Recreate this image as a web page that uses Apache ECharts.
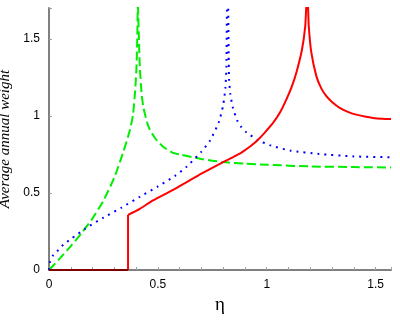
<!DOCTYPE html>
<html>
<head>
<meta charset="utf-8">
<script src="https://cdn.jsdelivr.net/npm/echarts@6/dist/echarts.min.js"></script>
<style>
  html, body { margin: 0; padding: 0; background: #fff; }
  #main { width: 400px; height: 321px; }
</style>
</head>
<body>
<div id="main"></div>
<script>
// eta values and weights (points above 1.7 get clipped)
const greenEta = [0, 0.05, 0.1, 0.15, 0.2, 0.25, 0.3, 0.34, 0.37, 0.385, 0.395, 0.402, 0.406, 0.408,
  0.41, 0.413, 0.417, 0.425, 0.433, 0.45, 0.463, 0.49, 0.524, 0.57, 0.6, 0.7, 0.8, 0.9, 1.0, 1.2, 1.4, 1.571]
const greenVal = [0, 0.075, 0.155, 0.24, 0.335, 0.45, 0.6, 0.76, 0.9, 1.0, 1.15, 1.32, 1.55, 1.75,
  1.75, 1.5, 1.32, 1.15, 1.06, 0.96, 0.911, 0.85, 0.80, 0.76, 0.75, 0.72, 0.70, 0.69, 0.683, 0.672, 0.668, 0.665]

const blueEta = [0, 0.005, 0.02, 0.043, 0.066, 0.1, 0.165, 0.25, 0.333, 0.417, 0.5, 0.578, 0.632, 0.7, 0.74, 0.78, 0.8, 0.81, 0.815, 0.818,
  0.822, 0.825, 0.827, 0.833, 0.845, 0.866, 0.884, 0.907, 0.96, 1.02, 1.11, 1.24, 1.4, 1.571]
const blueVal = [0, 0.054, 0.098, 0.13, 0.165, 0.2, 0.267, 0.34, 0.405, 0.475, 0.542, 0.61, 0.67, 0.768, 0.84, 0.96, 1.07, 1.18, 1.32, 1.75,
  1.75, 1.4, 1.236, 1.14, 1.05, 0.965, 0.926, 0.893, 0.843, 0.807, 0.774, 0.753, 0.737, 0.732]

// red is zero up to the jump (darker where it lies on the axis), then jumps up
const redZeroEta = [0, 0.363]
const redZeroVal = [0, 0]
const redJumpEta = [0.363, 0.363]
const redJumpVal = [0, 0.358]
const redEta = [0.363, 0.417, 0.478, 0.57, 0.632, 0.7, 0.8, 0.876, 0.922, 0.953, 0.99, 1.029, 1.06, 1.09, 1.115, 1.136, 1.162, 1.177, 1.184,
  1.188, 1.193, 1.205, 1.228, 1.25, 1.274, 1.3, 1.335, 1.37, 1.411, 1.45, 1.488, 1.53, 1.571]
const redVal = [0.358, 0.397, 0.452, 0.52, 0.57, 0.625, 0.70, 0.755, 0.80, 0.835, 0.89, 0.954, 1.02, 1.106, 1.19, 1.28, 1.431, 1.583, 1.75,
  1.75, 1.583, 1.41, 1.258, 1.18, 1.128, 1.09, 1.052, 1.028, 1.008, 0.996, 0.987, 0.982, 0.98]

const xMax = 1.5708
const yMax = 1.7

const pairs = (xs, ys) => xs.map((x, i) => [x, ys[i]])
const halfStep = (v) => Math.abs(v * 2 - Math.round(v * 2)) < 1e-6 ? String(Math.round(v * 10) / 10) : ''

let myChart = echarts.init(document.getElementById('main'))
let option = {
  backgroundColor: '#fff',
  animation: false,
  grid: {
    left: 49,
    right: 9,
    top: 8,
    bottom: 51,
    containLabel: false,
    outerBoundsMode: 'none'
  },
  xAxis: {
    type: 'value',
    min: 0,
    max: xMax,
    interval: 0.1,
    name: 'η',
    nameLocation: 'middle',
    nameGap: 22,
    nameTextStyle: { fontFamily: 'Liberation Serif', fontSize: 19, color: '#000' },
    axisLine: { lineStyle: { color: '#808080', width: 2 } },
    axisTick: { inside: true, length: 3, lineStyle: { color: '#a0a0a0' } },
    axisLabel: {
      formatter: halfStep,
      margin: 9,
      fontFamily: 'Liberation Sans',
      fontSize: 12,
      color: '#000'
    },
    splitLine: { show: false }
  },
  yAxis: {
    type: 'value',
    min: 0,
    max: yMax,
    interval: 0.5,
    name: 'Average annual weight',
    nameLocation: 'middle',
    nameGap: 32,
    nameTextStyle: { fontFamily: 'Liberation Serif', fontStyle: 'italic', fontSize: 15, color: '#000' },
    axisLine: { show: true, lineStyle: { color: '#808080', width: 2 } },
    axisTick: { show: true, inside: true, length: 3, lineStyle: { color: '#a0a0a0' } },
    axisLabel: {
      formatter: halfStep,
      margin: 9,
      fontFamily: 'Liberation Sans',
      fontSize: 12,
      color: '#000'
    },
    splitLine: { show: false }
  },
  series: [
    {
      type: 'line',
      data: pairs(greenEta, greenVal),
      showSymbol: false,
      smooth: 0.2,
      lineStyle: { color: '#00ee00', width: 2, type: [9, 4] },
      z: 3
    },
    {
      type: 'line',
      data: pairs(blueEta, blueVal),
      showSymbol: false,
      smooth: 0.2,
      lineStyle: { color: '#0000ff', width: 2, type: [2, 5] },
      z: 4
    },
    {
      type: 'line',
      data: pairs(redEta, redVal),
      showSymbol: false,
      smooth: 0.2,
      lineStyle: { color: '#ff0000', width: 2 },
      z: 5
    },
    {
      type: 'line',
      data: pairs(redJumpEta, redJumpVal),
      showSymbol: false,
      lineStyle: { color: '#ff0000', width: 2 },
      z: 5
    },
    {
      type: 'line',
      data: pairs(redZeroEta, redZeroVal),
      showSymbol: false,
      lineStyle: { color: '#800000', width: 2 },
      z: 6
    }
  ]
}
myChart.setOption(option)
</script>
</body>
</html>
